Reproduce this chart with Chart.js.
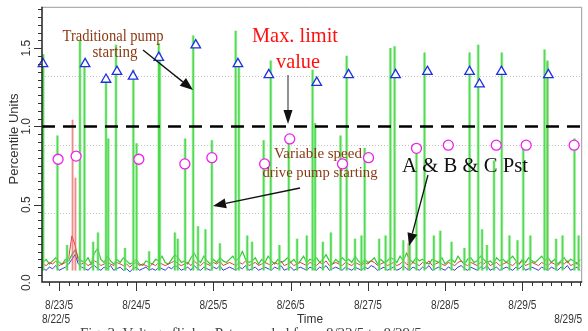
<!DOCTYPE html>
<html>
<head>
<meta charset="utf-8">
<script src="https://cdn.jsdelivr.net/npm/chart.js@4.4.0/dist/chart.umd.min.js"></script>
<style>
  html, body { margin: 0; padding: 0; background: #fff; }
  #graphContainer { width: 588px; height: 331px; position: relative; }
</style>
</head>
<body>
<div id="graphContainer"><canvas id="myChart" width="588" height="331"></canvas></div>
<script>
// time axis is in hours counted from 8/22/5 00:00
const dayHours = [24, 48, 72, 96, 120, 144, 168];
const dayLabels = ['8/23/5', '8/24/5', '8/25/5', '8/26/5', '8/27/5', '8/28/5', '8/29/5'];
const startLabel = '8/22/5';
const endLabel = '8/29/5';
const yTickValues = [0, 0.5, 1.0, 1.5];
const yTickLabels = ['0.0', '0.5', '1.0', '1.5'];
const limitValue = 1.0;
const refLines = [0.446, 0.882, 1.323];

// hourly background level, first sample at hour 19
const baseStart = 19;
const greenBase = [
  .13,.15,.12,.14,.16,.13,.12,.15,.14,.18,.21,.16,
  .14,.13,.16,.12,.19,.22,.15,.13,.17,.14,.12,.15,
  .13,.16,.14,.12,.13,.15,.12,.11,.14,.13,.12,.15,
  .14,.17,.13,.12,.15,.18,.16,.13,.14,.12,.16,.19,
  .15,.13,.17,.14,.12,.15,.13,.16,.14,.13,.15,.17,
  .14,.16,.20,.15,.13,.14,.16,.12,.15,.13,.17,.14,
  .12,.15,.13,.14,.16,.13,.15,.12,.14,.17,.13,.15,
  .14,.16,.13,.15,.18,.14,.12,.15,.13,.16,.14,.15,
  .13,.17,.14,.12,.15,.13,.14,.16,.12,.15,.13,.14,
  .16,.15,.13,.17,.14,.19,.15,.13,.16,.14,.15,.13,
  .12,.15,.14,.13,.16,.12,.14,.15,.13,.17,.14,.12,
  .15,.16,.13,.14,.17,.15,.13,.14,.12,.16,.14,.15,
  .13,.15,.17,.14,.12,.15,.13,.16,.14,.13,.15,.17,
  .14,.16,.13,.15,.12,.14,.16,.13,.15,.14,.12,.15
];
const redBase = [
  .12,.11,.13,.12,.14,.11,.12,.13,.16,.30,.24,.14,
  .12,.13,.11,.12,.14,.13,.11,.12,.13,.12,.11,.13,
  .12,.11,.12,.10,.12,.13,.11,.12,.11,.10,.12,.11,
  .13,.12,.11,.12,.13,.14,.12,.11,.12,.13,.11,.14,
  .12,.11,.13,.12,.11,.13,.12,.14,.11,.12,.13,.12,
  .11,.13,.12,.14,.11,.12,.13,.11,.12,.13,.12,.11,
  .13,.12,.14,.11,.12,.13,.11,.12,.13,.12,.11,.13,
  .12,.11,.13,.12,.14,.11,.12,.13,.12,.11,.13,.12,
  .11,.13,.12,.11,.13,.12,.14,.13,.11,.12,.13,.11,
  .12,.13,.11,.12,.14,.12,.11,.13,.12,.11,.13,.12,
  .14,.11,.12,.13,.12,.11,.13,.12,.11,.13,.14,.12,
  .11,.13,.12,.11,.13,.12,.14,.11,.12,.13,.11,.12,
  .13,.12,.11,.13,.12,.14,.11,.12,.13,.12,.11,.13,
  .12,.11,.13,.12,.11,.13,.12,.14,.11,.12,.13,.11
];
const blueBase = [
  .09,.08,.10,.09,.11,.08,.09,.10,.12,.15,.18,.12,
  .10,.09,.08,.10,.11,.09,.08,.10,.09,.11,.08,.09,
  .10,.08,.09,.07,.09,.10,.08,.09,.10,.08,.09,.08,
  .10,.09,.08,.10,.09,.11,.10,.08,.09,.10,.08,.11,
  .09,.08,.10,.09,.08,.10,.09,.11,.08,.09,.10,.09,
  .08,.10,.09,.11,.08,.09,.10,.08,.09,.10,.09,.08,
  .10,.09,.11,.08,.09,.10,.08,.09,.10,.09,.08,.10,
  .09,.08,.10,.09,.11,.08,.09,.10,.09,.08,.10,.09,
  .08,.10,.09,.08,.10,.09,.11,.10,.08,.09,.10,.08,
  .09,.10,.08,.09,.11,.09,.08,.10,.09,.08,.10,.09,
  .11,.08,.09,.10,.09,.08,.10,.09,.08,.10,.11,.09,
  .08,.10,.09,.08,.10,.09,.11,.08,.09,.10,.08,.09,
  .10,.09,.08,.10,.09,.11,.08,.09,.10,.09,.08,.10,
  .09,.08,.10,.09,.08,.10,.09,.11,.08,.09,.10,.08
];

// green flicker spikes (hour, peak)
const spikeLow = 0.08;
const spikeHours = [
  19.1, 23.5, 30.5, 31.9, 38.6, 39.3, 41.7, 47.1, 48.1, 55.0, 55.3, 63.2, 65.7, 71.5,
  78.9, 79.9, 87.6, 89.8, 95.4, 102.8, 103.6, 111.5, 113.4, 119.0, 127.0, 128.3, 135.1,
  137.6, 151.6, 154.3, 159.2, 161.6, 168.3, 174.9, 175.8, 184.2,
  26.5, 34.6, 36.1, 44.5, 52.0, 60.0, 60.9, 67.2, 69.5, 74.0, 82.5, 84.0, 92.5, 98.0,
  101.0, 106.0, 108.5, 116.0, 118.0, 123.5, 125.5, 131.0, 133.0, 140.5, 142.5, 146.0,
  150.0, 155.5, 157.0, 164.0, 166.5, 170.5, 178.5, 180.5, 185.5
];
const spikePeaks = [
  1.46, 0.94, 1.55, 1.42, 1.30, 0.92, 1.52, 1.36, 0.89, 1.53, 1.47, 0.92, 1.58, 0.91,
  1.61, 1.41, 0.91, 1.42, 0.93, 1.36, 1.02, 0.94, 1.45, 0.86, 1.50, 1.51, 0.89,
  1.47, 1.47, 1.52, 0.78, 1.47, 0.90, 1.49, 1.42, 0.92,
  0.24, 0.26, 0.32, 0.22, 0.20, 0.32, 0.28, 0.36, 0.34, 0.25, 0.30, 0.26, 0.24, 0.28,
  0.30, 0.26, 0.32, 0.28, 0.30, 0.28, 0.30, 0.27, 0.25, 0.30, 0.33, 0.26,
  0.22, 0.34, 0.24, 0.30, 0.27, 0.30, 0.28, 0.30, 0.30
];
const redSpikeHours = [28.2, 29.1, 132.6, 175.8];
const redSpikePeaks = [1.04, 0.67, 0.25, 1.41];

// markers
const tradHours = [19.0, 32.1, 38.6, 42.0, 47.0, 55.0, 66.5, 79.6, 89.2, 104.1, 114.0, 128.6, 138.5, 151.6, 154.7, 161.5, 176.1];
const tradVals = [1.40, 1.40, 1.30, 1.35, 1.32, 1.44, 1.52, 1.40, 1.33, 1.28, 1.33, 1.33, 1.35, 1.35, 1.27, 1.35, 1.33];
const vsdHours = [23.7, 29.3, 48.8, 63.1, 71.5, 87.9, 95.7, 112.1, 120.2, 135.1, 145.0, 159.9, 169.2, 184.1];
const vsdVals = [0.79, 0.81, 0.79, 0.76, 0.80, 0.76, 0.92, 0.76, 0.80, 0.86, 0.88, 0.88, 0.88, 0.88];

const xMin = 18.7, xMax = 186.3;

const toPts = (xs, ys) => xs.map((x, i) => ({ x: x, y: ys[i] }));
const basePts = arr => arr.map((v, i) => ({ x: baseStart + i, y: v }));
const barPts = (xs, ys) => xs.map((x, i) => ({ x: x, y: [spikeLow, ys[i]] }));

const SERIF = '"Liberation Serif", "Times New Roman", serif';
const SANS = '"Liberation Sans", Arial, sans-serif';

function arrow(ctx, x1, y1, x2, y2, lineColor, headColor, len, w) {
  const ang = Math.atan2(y2 - y1, x2 - x1);
  const bx = x2 - len * Math.cos(ang), by = y2 - len * Math.sin(ang);
  ctx.strokeStyle = lineColor;
  ctx.lineWidth = 1.3;
  ctx.beginPath(); ctx.moveTo(x1, y1); ctx.lineTo(bx, by); ctx.stroke();
  ctx.fillStyle = headColor;
  ctx.beginPath();
  ctx.moveTo(x2, y2);
  ctx.lineTo(bx + w * Math.sin(ang), by - w * Math.cos(ang));
  ctx.lineTo(bx - w * Math.sin(ang), by + w * Math.cos(ang));
  ctx.closePath(); ctx.fill();
}

function text(ctx, s, x, y, font, color, maxW, align) {
  ctx.font = font;
  ctx.fillStyle = color;
  ctx.textAlign = align || 'center';
  ctx.textBaseline = 'alphabetic';
  ctx.fillText(s, x, y, maxW);
}

const deco = {
  id: 'deco',
  beforeDatasetsDraw(chart) {
    const { ctx, chartArea: a, scales: { y } } = chart;
    ctx.save();
    ctx.strokeStyle = '#c4c4c4';
    ctx.lineWidth = 1;
    ctx.setLineDash([1, 2]);
    refLines.forEach(v => {
      const py = Math.round(y.getPixelForValue(v)) + 0.5;
      ctx.beginPath(); ctx.moveTo(a.left, py); ctx.lineTo(a.right, py); ctx.stroke();
    });
    ctx.restore();
  },
  afterDraw(chart) {
    const { ctx, chartArea: a, scales: { x, y } } = chart;
    ctx.save();
    // frame
    ctx.strokeStyle = '#9a9a9a';
    ctx.lineWidth = 1;
    ctx.beginPath();
    ctx.moveTo(a.left, a.top + 0.5); ctx.lineTo(a.right + 0.5, a.top + 0.5); ctx.lineTo(a.right + 0.5, a.bottom);
    ctx.stroke();
    ctx.strokeStyle = '#222';
    ctx.lineWidth = 1.5;
    ctx.beginPath();
    ctx.moveTo(a.left, a.top); ctx.lineTo(a.left, a.bottom); ctx.lineTo(a.right + 1, a.bottom);
    ctx.stroke();

    // x ticks every 3 hours
    ctx.lineWidth = 1;
    ctx.strokeStyle = '#333';
    for (let h = 21; h <= xMax; h += 3) {
      const px = Math.round(x.getPixelForValue(h)) + 0.5;
      const len = h % 24 === 0 ? 9 : 4;
      ctx.beginPath(); ctx.moveTo(px, a.bottom); ctx.lineTo(px, a.bottom + len); ctx.stroke();
    }
    // y ticks every 0.05
    for (let k = 1; k * 0.05 <= 1.765; k++) {
      const py = Math.round(y.getPixelForValue(k * 0.05)) + 0.5;
      const len = k % 10 === 0 ? 8 : 4;
      ctx.beginPath(); ctx.moveTo(a.left, py); ctx.lineTo(a.left - len, py); ctx.stroke();
    }

    // x labels
    dayHours.forEach((h, i) => {
      text(ctx, dayLabels[i], x.getPixelForValue(h), 309, '12px ' + SANS, '#333', 28);
    });
    text(ctx, startLabel, a.left, 323, '12px ' + SANS, '#333', 28, 'left');
    text(ctx, endLabel, a.right + 1, 323, '12px ' + SANS, '#333', 28, 'right');
    text(ctx, 'Time', 310, 323, '12px ' + SANS, '#333', 26);

    // y labels, rotated
    ctx.font = '12px ' + SANS;
    ctx.fillStyle = '#333';
    yTickValues.forEach((v, i) => {
      ctx.save();
      ctx.translate(27, y.getPixelForValue(v));
      ctx.rotate(-Math.PI / 2);
      ctx.textAlign = 'center'; ctx.textBaseline = 'middle';
      ctx.fillText(yTickLabels[i], 0, 0);
      ctx.restore();
    });
    ctx.save();
    ctx.translate(14, 139);
    ctx.rotate(-Math.PI / 2);
    ctx.font = '13px ' + SANS;
    ctx.textAlign = 'center'; ctx.textBaseline = 'middle';
    ctx.fillText('Percentile Units', 0, 0, 102);
    ctx.restore();

    // annotations
    const brown = '#8b3a14';
    text(ctx, 'Traditional pump', 113, 41, '17px ' + SERIF, brown, 101);
    text(ctx, 'starting', 115, 57, '17px ' + SERIF, brown, 45);
    arrow(ctx, 143, 50, 193, 90, '#111', '#111', 13, 5);

    text(ctx, 'Max. limit', 295, 42, '22px ' + SERIF, '#ff1010', 86);
    text(ctx, 'value', 298, 68, '22px ' + SERIF, '#ff1010', 44);
    arrow(ctx, 288, 75, 288, 124, '#555', '#111', 14, 4.5);

    text(ctx, 'Variable speed', 318, 158, '15px ' + SERIF, brown, 88);
    text(ctx, 'drive pump starting', 320, 177, '15px ' + SERIF, brown, 115);
    arrow(ctx, 300, 188, 213, 206, '#111', '#111', 13, 5);

    text(ctx, 'A & B & C Pst', 465, 172, '22px ' + SERIF, '#111', 126);
    arrow(ctx, 428, 175, 409, 246, '#111', '#111', 13, 5);

    // caption (cut by the frame)
    text(ctx, 'Fig. 3. Voltage flicker Pst recorded from 8/22/5 to 8/29/5', 80, 338, '15px ' + SERIF, '#444', 508, 'left');
    ctx.restore();
  }
};

new Chart(document.getElementById('myChart').getContext('2d'), {
  type: 'line',
  data: {
    datasets: [
      {
        label: 'Traditional pump starting',
        data: toPts(tradHours, tradVals),
        showLine: false,
        pointStyle: 'triangle',
        pointRadius: 5.5,
        pointBorderWidth: 1.3,
        pointBorderColor: '#1f2fe6',
        pointBackgroundColor: '#fff',
        clip: false,
        order: 0
      },
      {
        label: 'VSD pump starting',
        data: toPts(vsdHours, vsdVals),
        showLine: false,
        pointStyle: 'circle',
        pointRadius: 5,
        pointBorderWidth: 1.3,
        pointBorderColor: '#ee1fee',
        pointBackgroundColor: '#fff',
        clip: false,
        order: 1
      },
      {
        label: 'Max. limit',
        data: [{ x: xMin, y: limitValue }, { x: xMax, y: limitValue }],
        borderColor: '#000',
        borderWidth: 2.5,
        borderDash: [13, 8],
        pointRadius: 0,
        order: 2
      },
      {
        type: 'bar',
        label: 'Pst green spikes',
        data: barPts(spikeHours, spikePeaks),
        backgroundColor: 'rgba(70,215,70,0.9)',
        barThickness: 1,
        grouped: false,
        order: 3
      },
      {
        type: 'bar',
        label: 'Pst green spikes halo',
        data: barPts(spikeHours, spikePeaks),
        backgroundColor: 'rgba(150,235,150,0.55)',
        barThickness: 2.6,
        grouped: false,
        order: 4
      },
      {
        type: 'bar',
        label: 'Pst red spikes',
        data: barPts(redSpikeHours, redSpikePeaks),
        backgroundColor: 'rgba(235,100,100,0.75)',
        barThickness: 1.2,
        grouped: false,
        order: 5
      },
      { label: 'Pst B', data: basePts(blueBase), borderColor: '#3535e0', borderWidth: 1, pointRadius: 0, order: 6 },
      { label: 'Pst A', data: basePts(redBase), borderColor: '#e03a3a', borderWidth: 1, pointRadius: 0, order: 7 },
      { label: 'Pst C', data: basePts(greenBase), borderColor: '#33c833', borderWidth: 1.2, pointRadius: 0, order: 8 }
    ]
  },
  options: {
    responsive: false,
    animation: false,
    devicePixelRatio: 1,
    layout: { padding: { left: 42, right: 6, top: 3, bottom: 49 } },
    elements: { line: { tension: 0 } },
    plugins: { legend: { display: false }, tooltip: { enabled: false } },
    scales: {
      x: { type: 'linear', display: false, min: xMin, max: xMax, offset: false },
      y: { type: 'linear', display: false, min: 0.005, max: 1.765 }
    }
  },
  plugins: [deco]
});
</script>
</body>
</html>
